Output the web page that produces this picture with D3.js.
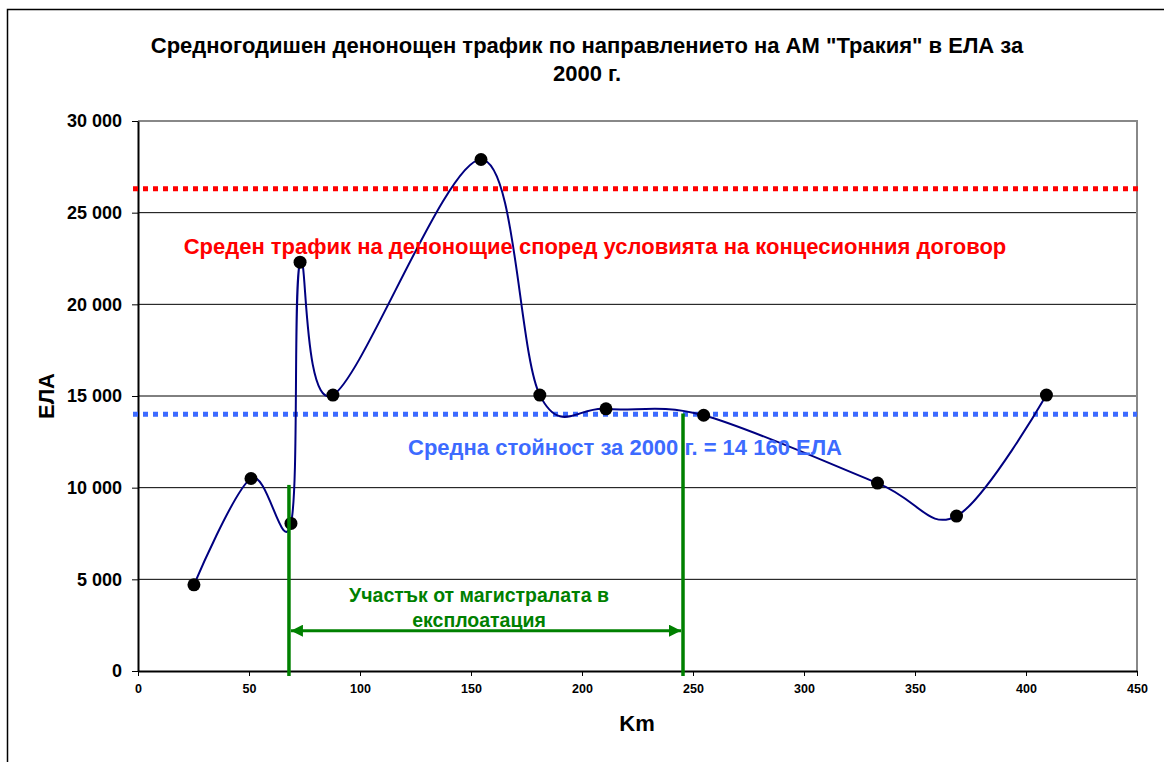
<html>
<head>
    <meta charset="utf-8">
    <title>Трафик АМ Тракия</title>
    <style type="text/css">
        body{
            margin: 0;
            background-color: #fff;
        }
        svg text{
            font-family: Arial, "Liberation Sans", sans-serif;
            font-weight: bold;
        }
        .grid line{
            stroke: #000;
            stroke-width: 1px;
        }
        .axis path, .axis line{
            stroke: #000;
        }
        .axis text{
            fill: #000;
        }
    </style>
    <script type="text/javascript" src="https://cdn.jsdelivr.net/npm/d3@7"></script>
</head>
<body>
    <div id="chart"></div>

    <script type="text/javascript">
        // data
        var km  = [25.2, 50.9, 68.9, 73.0, 87.8, 154.5, 181.0, 210.8, 254.8, 333.1, 368.7, 409.2];
        var ela = [4700, 10500, 8050, 22300, 15050, 27900, 15050, 14300, 13950, 10250, 8450, 15050];
        var yTicks = [0, 5000, 10000, 15000, 20000, 25000, 30000];
        var xTicks = [0, 50, 100, 150, 200, 250, 300, 350, 400, 450];
        var contractTraffic = 26300;
        var average2000 = 14000;
        var sectionStart = 68, sectionEnd = 245.5;
        var sectionStartTop = 10150, sectionEndTop = 14050, arrowLevel = 2200;

        var titleLines = ['Средногодишен денонощен трафик по направлението на АМ "Тракия" в ЕЛА за', '2000 г.'];
        var contractLabel = 'Среден трафик на денонощие според условията на концесионния договор';
        var averageLabel = 'Средна стойност за 2000 г. = 14 160 ЕЛА';
        var sectionLabel = ['Участък от магистралата в', 'експлоатация'];

        var width = 1164, height = 762;
        var plotLeft = 138, plotRight = 1137, plotTop = 121, plotBottom = 671;

        var svg = d3.select('#chart')
            .append('svg')
            .attr('width', width)
            .attr('height', height);

        // outer chart frame
        svg.append('rect')
            .attr('x', 7.5).attr('y', 9.5)
            .attr('width', 1300).attr('height', 900)
            .attr('fill', '#fff')
            .attr('stroke', '#000')
            .attr('stroke-width', 1.5);

        var xScale = d3.scaleLinear().domain([0, 450]).range([plotLeft, plotRight]);
        var yScale = d3.scaleLinear().domain([0, 30000]).range([plotBottom, plotTop]);

        // gridlines
        svg.append('g')
            .attr('class', 'grid')
            .selectAll('line')
            .data(yTicks.slice(1, -1))
            .enter()
            .append('line')
            .attr('x1', xScale(0)).attr('x2', xScale(450))
            .attr('y1', function(d){ return yScale(d); })
            .attr('y2', function(d){ return yScale(d); });

        // plot border (top and right grey)
        svg.append('path')
            .attr('d', 'M' + xScale(0) + ',' + yScale(30000) + 'H' + xScale(450) + 'V' + yScale(0))
            .attr('fill', 'none')
            .attr('stroke', '#888')
            .attr('stroke-width', 2);

        var xAxis = d3.axisBottom(xScale).tickValues(xTicks).tickSize(5).tickSizeOuter(0).tickPadding(8);
        var yAxis = d3.axisLeft(yScale).tickValues(yTicks).tickSize(6).tickSizeOuter(0).tickPadding(10)
            .tickFormat(function(d){ return d3.format(',')(d).replace(',', ' '); });

        var xAxisG = svg.append('g')
            .attr('class', 'axis')
            .attr('transform', 'translate(0,' + plotBottom + ')')
            .call(xAxis);
        xAxisG.selectAll('text').style('font-size', '12.5px');
        xAxisG.select('.domain').attr('stroke-width', 2);

        var yAxisG = svg.append('g')
            .attr('class', 'axis')
            .attr('transform', 'translate(' + plotLeft + ',0)')
            .call(yAxis);
        yAxisG.selectAll('text').style('font-size', '18px');
        yAxisG.select('.domain').attr('stroke', '#333').attr('stroke-width', 2);

        // reference lines
        svg.append('line')
            .attr('x1', xScale(0) - 5).attr('x2', xScale(450) + 3)
            .attr('y1', yScale(contractTraffic)).attr('y2', yScale(contractTraffic))
            .attr('stroke', '#ff0000')
            .attr('stroke-width', 5)
            .attr('stroke-dasharray', '5,5');

        svg.append('line')
            .attr('x1', xScale(0) - 5).attr('x2', xScale(450))
            .attr('y1', yScale(average2000)).attr('y2', yScale(average2000))
            .attr('stroke', '#3d6bff')
            .attr('stroke-width', 5)
            .attr('stroke-dasharray', '5,5');

        // series
        var points = km.map(function(d, i){ return [d, ela[i]]; });
        var line = d3.line()
            .x(function(d){ return xScale(d[0]); })
            .y(function(d){ return yScale(d[1]); })
            .curve(d3.curveCardinal.tension(0));

        svg.append('path')
            .datum(points)
            .attr('d', line)
            .attr('fill', 'none')
            .attr('stroke', '#000080')
            .attr('stroke-width', 2);

        svg.selectAll('.dot')
            .data(points)
            .enter()
            .append('circle')
            .attr('class', 'dot')
            .attr('cx', function(d){ return xScale(d[0]); })
            .attr('cy', function(d){ return yScale(d[1]); })
            .attr('r', 6.5)
            .attr('fill', '#000');

        // section in use (green)
        var green = '#008000';
        svg.append('defs').selectAll('marker')
            .data(['arrowStart', 'arrowEnd'])
            .enter()
            .append('marker')
            .attr('id', function(d){ return d; })
            .attr('viewBox', '0 0 10 10')
            .attr('refX', 10)
            .attr('refY', 5)
            .attr('markerWidth', 4.5)
            .attr('markerHeight', 4)
            .attr('markerUnits', 'strokeWidth')
            .attr('orient', 'auto-start-reverse')
            .append('path')
            .attr('d', 'M0,0L10,5L0,10Z')
            .attr('fill', green);

        svg.append('line')
            .attr('x1', xScale(sectionStart)).attr('x2', xScale(sectionStart))
            .attr('y1', yScale(sectionStartTop)).attr('y2', yScale(0) + 5)
            .attr('stroke', green).attr('stroke-width', 3.5);
        svg.append('line')
            .attr('x1', xScale(sectionEnd)).attr('x2', xScale(sectionEnd))
            .attr('y1', yScale(sectionEndTop)).attr('y2', yScale(0) + 5)
            .attr('stroke', green).attr('stroke-width', 3.5);
        svg.append('line')
            .attr('x1', xScale(sectionStart) + 2).attr('x2', xScale(sectionEnd) - 2)
            .attr('y1', yScale(arrowLevel)).attr('y2', yScale(arrowLevel))
            .attr('stroke', green).attr('stroke-width', 3)
            .attr('marker-start', 'url(#arrowStart)')
            .attr('marker-end', 'url(#arrowEnd)');

        svg.selectAll('.sectionLabel')
            .data(sectionLabel)
            .enter()
            .append('text')
            .attr('class', 'sectionLabel')
            .attr('x', 479)
            .attr('y', function(d, i){ return 602 + i * 25; })
            .attr('text-anchor', 'middle')
            .attr('fill', green)
            .style('font-size', '19.5px')
            .text(function(d){ return d; });

        // annotations
        svg.append('text')
            .attr('x', 595).attr('y', 254)
            .attr('text-anchor', 'middle')
            .attr('fill', '#ff0000')
            .style('font-size', '22px')
            .text(contractLabel);

        svg.append('text')
            .attr('x', 625).attr('y', 455)
            .attr('text-anchor', 'middle')
            .attr('fill', '#3d6bff')
            .style('font-size', '22px')
            .text(averageLabel);

        // titles
        svg.selectAll('.title')
            .data(titleLines)
            .enter()
            .append('text')
            .attr('class', 'title')
            .attr('x', 587)
            .attr('y', function(d, i){ return 53 + i * 28; })
            .attr('text-anchor', 'middle')
            .style('font-size', '22px')
            .text(function(d){ return d; });

        svg.append('text')
            .attr('x', 637).attr('y', 731)
            .attr('text-anchor', 'middle')
            .style('font-size', '22px')
            .text('Km');

        svg.append('text')
            .attr('transform', 'translate(54,396) rotate(-90)')
            .attr('text-anchor', 'middle')
            .style('font-size', '22px')
            .text('ЕЛА');
    </script>
</body>
</html>
